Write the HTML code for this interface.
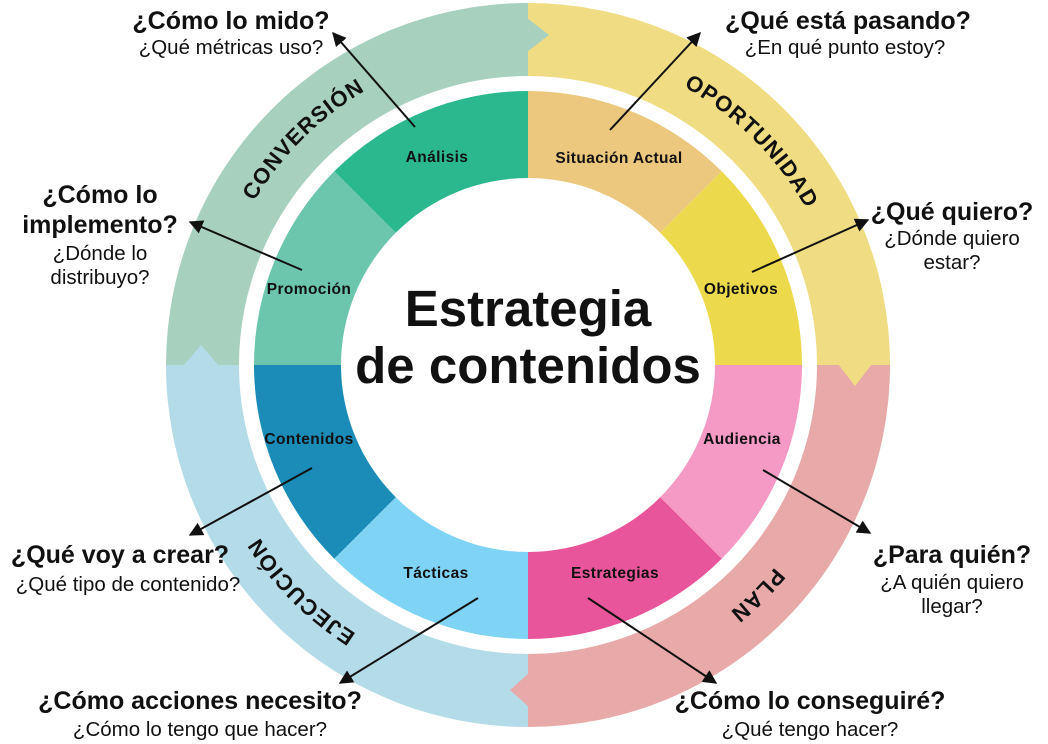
<!DOCTYPE html>
<html><head><meta charset="utf-8"><style>
html,body{margin:0;padding:0;background:#fff;width:1048px;height:744px;overflow:hidden}
svg{display:block}
text{font-family:"Liberation Sans",sans-serif;fill:#111}
.q{font-weight:bold;font-size:25px}
.s{font-size:20.5px}
.w{font-weight:bold;font-size:15.5px;letter-spacing:0.4px}
.r{font-weight:bold;font-size:22px;letter-spacing:1.5px}
</style></head><body>
<svg width="1048" height="744" viewBox="0 0 1048 744">
<defs>
<marker id="ah" viewBox="0 0 10 10" refX="9" refY="5" markerWidth="7" markerHeight="7" orient="auto"><path d="M0,0 L10,5 L0,10 z" fill="#111"/></marker>
<path id="cp" d="M528,38 A327,327 0 1 1 528,692 A327,327 0 1 1 528,38"/>
</defs>
<g transform="translate(528,365)">
<path d="M0,-362 A362,362 0 0 1 362,0 L289,0 A289,289 0 0 0 0,-289 Z" fill="#f0dc82"/>
<path d="M362,0 A362,362 0 0 1 0,362 L0,289 A289,289 0 0 0 289,0 Z" fill="#e8a9a9"/>
<path d="M0,362 A362,362 0 0 1 -362,0 L-289,0 A289,289 0 0 0 0,289 Z" fill="#b4dbe8"/>
<path d="M-362,0 A362,362 0 0 1 0,-362 L0,-289 A289,289 0 0 0 -289,0 Z" fill="#a8d0bf"/>
<polygon points="-1,-347 21,-330 -1,-313" fill="#a8d0bf"/>
<polygon points="310,-1 327,21 344,-1" fill="#f0dc82"/>
<polygon points="1,308 -18,325 1,342" fill="#e8a9a9"/>
<polygon points="-345,1 -327,-20 -309,1" fill="#b4dbe8"/>
<path d="M0,0 L0,-274 A274,274 0 0 1 193.7,-193.7 Z" fill="#ecc87f"/>
<path d="M0,0 L193.7,-193.7 A274,274 0 0 1 274,0 Z" fill="#ecd94c"/>
<path d="M0,0 L274,0 A274,274 0 0 1 193.7,193.7 Z" fill="#f59ac4"/>
<path d="M0,0 L193.7,193.7 A274,274 0 0 1 0,274 Z" fill="#e8559a"/>
<path d="M0,0 L0,274 A274,274 0 0 1 -193.7,193.7 Z" fill="#7fd3f5"/>
<path d="M0,0 L-193.7,193.7 A274,274 0 0 1 -274,0 Z" fill="#1b8cb8"/>
<path d="M0,0 L-274,0 A274,274 0 0 1 -193.7,-193.7 Z" fill="#6cc5ad"/>
<path d="M0,0 L-193.7,-193.7 A274,274 0 0 1 0,-274 Z" fill="#2cb88f"/>
<circle r="187" fill="#fff"/>
</g>
<text font-weight="bold" font-size="51" text-anchor="middle" x="528" y="326">Estrategia</text>
<text font-weight="bold" font-size="51" text-anchor="middle" x="528" y="383">de contenidos</text>
<text class="r" dominant-baseline="central" text-anchor="middle"><textPath href="#cp" startOffset="1798">CONVERSIÓN</textPath></text>
<text class="r" dominant-baseline="central" text-anchor="middle"><textPath href="#cp" startOffset="257">OPORTUNIDAD</textPath></text>
<text class="r" dominant-baseline="central" text-anchor="middle"><textPath href="#cp" startOffset="771">PLAN</textPath></text>
<text class="r" dominant-baseline="central" text-anchor="middle"><textPath href="#cp" startOffset="1284">EJECUCIÓN</textPath></text>
<g text-anchor="middle">
<text class="w" x="437" y="162">Análisis</text>
<text class="w" x="619" y="163">Situación Actual</text>
<text class="w" x="741" y="294">Objetivos</text>
<text class="w" x="742" y="444">Audiencia</text>
<text class="w" x="615" y="578">Estrategias</text>
<text class="w" x="436" y="578">Tácticas</text>
<text class="w" x="309" y="444">Contenidos</text>
<text class="w" x="309" y="294">Promoción</text>
</g>
<g stroke="#111" stroke-width="2" marker-end="url(#ah)">
<line x1="415" y1="127" x2="333" y2="33"/>
<line x1="610" y1="130" x2="700" y2="33"/>
<line x1="752" y1="272" x2="868" y2="220"/>
<line x1="302" y1="270" x2="190" y2="222"/>
<line x1="312" y1="468" x2="190" y2="535"/>
<line x1="478" y1="598" x2="340" y2="683"/>
<line x1="588" y1="598" x2="716" y2="683"/>
<line x1="763" y1="470" x2="870" y2="533"/>
</g>
<text class="q" x="231" y="29" text-anchor="middle">¿Cómo lo mido?</text>
<text class="s" x="231" y="54" text-anchor="middle">¿Qué métricas uso?</text>
<text class="q" x="848" y="29" text-anchor="middle">¿Qué está pasando?</text>
<text class="s" x="845" y="54" text-anchor="middle">¿En qué punto estoy?</text>
<text class="q" x="100" y="203" text-anchor="middle">¿Cómo lo</text>
<text class="q" x="100" y="233" text-anchor="middle">implemento?</text>
<text class="s" x="100" y="260" text-anchor="middle">¿Dónde lo</text>
<text class="s" x="100" y="284" text-anchor="middle">distribuyo?</text>
<text class="q" x="952" y="220" text-anchor="middle">¿Qué quiero?</text>
<text class="s" x="952" y="245" text-anchor="middle">¿Dónde quiero</text>
<text class="s" x="952" y="269" text-anchor="middle">estar?</text>
<text class="q" x="120" y="563" text-anchor="middle">¿Qué voy a crear?</text>
<text class="s" x="128" y="591" text-anchor="middle">¿Qué tipo de contenido?</text>
<text class="q" x="952" y="563" text-anchor="middle">¿Para quién?</text>
<text class="s" x="952" y="589" text-anchor="middle">¿A quién quiero</text>
<text class="s" x="952" y="613" text-anchor="middle">llegar?</text>
<text class="q" x="200" y="709" text-anchor="middle">¿Cómo acciones necesito?</text>
<text class="s" x="200" y="736" text-anchor="middle">¿Cómo lo tengo que hacer?</text>
<text class="q" x="810" y="709" text-anchor="middle">¿Cómo lo conseguiré?</text>
<text class="s" x="810" y="736" text-anchor="middle">¿Qué tengo hacer?</text>
</svg>
</body></html>
